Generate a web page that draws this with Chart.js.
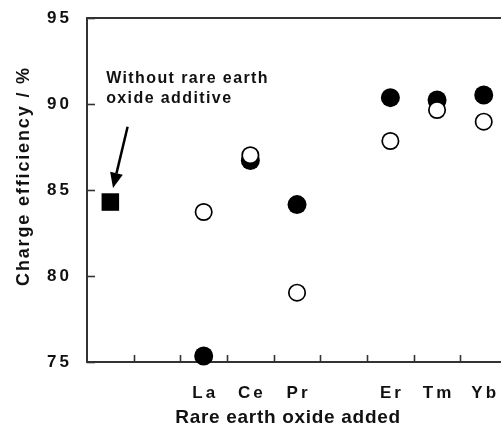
<!DOCTYPE html>
<html><head><meta charset="utf-8">
<script src="https://cdn.jsdelivr.net/npm/chart.js@4/dist/chart.umd.min.js"></script>
<style>html,body{margin:0;padding:0;background:#fff;}canvas{display:block;}</style>
</head><body>
<canvas id="c" width="501" height="429"></canvas>
<script>
// ---- data ----
const categories   = ['La', 'Ce', 'Pr', 'Er', 'Tm', 'Yb'];
const categoryX    = [2.5, 3.5, 4.5, 6.5, 7.5, 8.5];
const filledValues = [75.35, 86.72, 84.15, 90.37, 90.23, 90.52];
const openValues   = [83.72, 87.02, 79.03, 87.85, 89.65, 88.97];
const baselineX    = [0.5];
const baselineValue = [84.3];
const yMin = 75, yMax = 95, yStep = 5;
const xMin = 0, xMax = 8.87;
const annotationLines = ['Without rare earth', 'oxide additive'];
const annotationAnchor = { x: 0.41, y: [91.25, 90.05] };
const arrowFrom = { x: 0.87, y: 88.68 };
const arrowTo   = { x: 0.557, y: 85.12 };

const FONT = "'Liberation Sans', Arial, Helvetica, sans-serif";
const toPoints = (xs, ys) => xs.map((x, i) => ({ x: x, y: ys[i] }));

function wrap(scale, fn, spacing, dx, dy) {
  if (scale['__w_' + fn]) return;
  const orig = scale[fn];
  scale[fn] = function () {
    const ctx = this.ctx;
    ctx.save();
    ctx.letterSpacing = spacing;
    ctx.translate(dx, dy);
    orig.apply(this, arguments);
    ctx.restore();
  };
  scale['__w_' + fn] = true;
}

const decor = {
  id: 'decor',
  afterLayout(chart) {
    const xs = chart.scales.x, ys = chart.scales.y;
    wrap(xs, 'drawLabels', '3px', 1.5, 0);
    wrap(ys, 'drawLabels', '3px', 0, 0);
    wrap(xs, 'drawTitle', '0.7px', -6, 0);
    wrap(ys, 'drawTitle', '1.85px', 0, -14);
  },
  afterDraw(chart) {
    const ctx = chart.ctx, a = chart.chartArea;
    const xs = chart.scales.x, ys = chart.scales.y;
    ctx.save();
    ctx.strokeStyle = '#333';
    ctx.lineWidth = 2;
    ctx.beginPath();
    ctx.moveTo(a.left - 1, a.top);
    ctx.lineTo(a.right, a.top);
    ctx.stroke();
    ctx.lineWidth = 1.6;
    ys.ticks.forEach(t => {
      const py = Math.round(ys.getPixelForValue(t.value)) + 0.5;
      ctx.beginPath(); ctx.moveTo(a.left, py); ctx.lineTo(a.left + 8, py); ctx.stroke();
    });
    for (let v = Math.ceil(xs.min) + 1; v < xs.max; v++) {
      const px = Math.round(xs.getPixelForValue(v)) + 0.5;
      ctx.beginPath(); ctx.moveTo(px, a.bottom); ctx.lineTo(px, a.bottom - 7); ctx.stroke();
    }
    ctx.fillStyle = '#111';
    ctx.font = 'bold 16px ' + FONT;
    ctx.letterSpacing = '1.4px';
    ctx.textAlign = 'left';
    ctx.textBaseline = 'alphabetic';
    annotationLines.forEach((s, i) => {
      ctx.fillText(s, xs.getPixelForValue(annotationAnchor.x), ys.getPixelForValue(annotationAnchor.y[i]));
    });
    ctx.letterSpacing = '0px';
    const x1 = xs.getPixelForValue(arrowFrom.x), y1 = ys.getPixelForValue(arrowFrom.y);
    const x2 = xs.getPixelForValue(arrowTo.x), y2 = ys.getPixelForValue(arrowTo.y);
    const ang = Math.atan2(y2 - y1, x2 - x1);
    const hl = 15, hw = 6.5;
    const bx = x2 - hl * Math.cos(ang), by = y2 - hl * Math.sin(ang);
    ctx.strokeStyle = '#000';
    ctx.lineWidth = 2.5;
    ctx.beginPath(); ctx.moveTo(x1, y1); ctx.lineTo(bx, by); ctx.stroke();
    ctx.fillStyle = '#000';
    ctx.beginPath();
    ctx.moveTo(x2, y2);
    ctx.lineTo(bx + hw * Math.sin(ang), by - hw * Math.cos(ang));
    ctx.lineTo(bx - hw * Math.sin(ang), by + hw * Math.cos(ang));
    ctx.closePath(); ctx.fill();
    ctx.restore();
  }
};

new Chart(document.getElementById('c'), {
  type: 'scatter',
  data: {
    datasets: [
      { label: 'open', data: toPoints(categoryX, openValues), pointRadius: 8.2, pointBorderWidth: 1.7,
        borderColor: '#000', backgroundColor: '#fff', clip: false },
      { label: 'filled', data: toPoints(categoryX, filledValues), pointRadius: 9.5, pointBorderWidth: 0,
        borderColor: '#000', backgroundColor: '#000', clip: false },
      { label: 'without additive', data: toPoints(baselineX, baselineValue), pointStyle: 'rect', pointRadius: 12.4,
        pointBorderWidth: 0, borderColor: '#000', backgroundColor: '#000', clip: false }
    ]
  },
  options: {
    responsive: false,
    animation: false,
    devicePixelRatio: 1,
    events: [],
    layout: { autoPadding: false, padding: { top: 18, left: 0, right: 0, bottom: 0 } },
    plugins: { legend: { display: false }, tooltip: { enabled: false } },
    scales: {
      x: {
        type: 'linear', min: xMin, max: xMax,
        afterBuildTicks: s => { s.ticks = categoryX.map(v => ({ value: v })); },
        afterFit: s => { s.height = 67; s.paddingLeft = 0; s.paddingRight = 0; },
        grid: { display: true, drawOnChartArea: false, drawTicks: false },
        border: { display: true, color: '#333', width: 2 },
        ticks: {
          autoSkip: false, maxRotation: 0, padding: 21, color: '#111',
          font: { family: FONT, size: 17, weight: 'bold' },
          callback: (v, i) => categories[i]
        },
        title: { display: true, text: 'Rare earth oxide added', color: '#111',
          font: { family: FONT, size: 19, weight: 'bold' }, padding: { top: 0, bottom: 0 } }
      },
      y: {
        min: yMin, max: yMax,
        afterFit: s => { s.width = 87; s.paddingTop = 0; s.paddingBottom = 0; },
        grid: { display: true, drawOnChartArea: false, drawTicks: false },
        border: { display: true, color: '#333', width: 2 },
        ticks: { stepSize: yStep, padding: 15, color: '#111',
          font: { family: FONT, size: 17, weight: 'bold' } },
        title: { display: true, text: 'Charge efficiency / %', color: '#111',
          font: { family: FONT, size: 18, weight: 'bold' }, padding: { top: 13, bottom: 0 } }
      }
    }
  },
  plugins: [decor]
});
</script>
</body></html>
